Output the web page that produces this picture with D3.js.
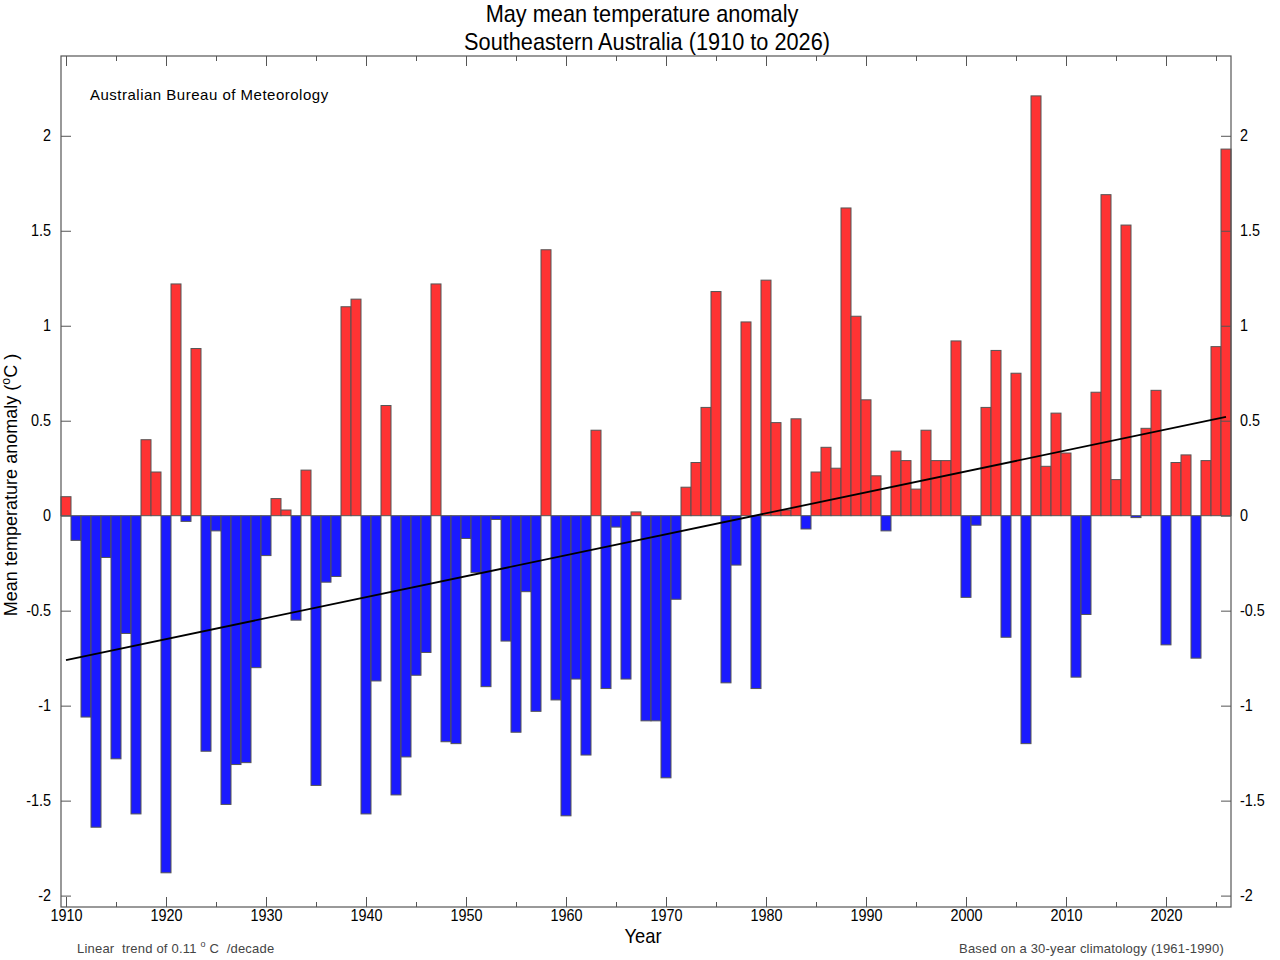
<!DOCTYPE html>
<html>
<head>
  <meta charset="utf-8">
  <title>May anomaly</title>
  <script src="https://d3js.org/d3.v7.min.js"></script>
  <style>
    body { margin: 0; background: #fff; }
    text { font-family: "Liberation Sans", Arial, sans-serif; }
  </style>
</head>
<body>
  <svg width="1280" height="960" id="mainsvg"></svg>
  <script>
    // May mean temperature anomaly, SE Australia, 1910..2026
    const years = d3.range(1910, 2027);
    const anomalies = [
      0.10, -0.13, -1.06, -1.64, -0.22, -1.28, -0.62, -1.57, 0.40, 0.23,   // 1910s
      -1.88, 1.22, -0.03, 0.88, -1.24, -0.08, -1.52, -1.31, -1.30, -0.80,  // 1920s
      -0.21, 0.09, 0.03, -0.55, 0.24, -1.42, -0.35, -0.32, 1.10, 1.14,     // 1930s
      -1.57, -0.87, 0.58, -1.47, -1.27, -0.84, -0.72, 1.22, -1.19, -1.20,  // 1940s
      -0.12, -0.30, -0.90, -0.02, -0.66, -1.14, -0.40, -1.03, 1.40, -0.97, // 1950s
      -1.58, -0.86, -1.26, 0.45, -0.91, -0.06, -0.86, 0.02, -1.08, -1.08,  // 1960s
      -1.38, -0.44, 0.15, 0.28, 0.57, 1.18, -0.88, -0.26, 1.02, -0.91,     // 1970s
      1.24, 0.49, 0.03, 0.51, -0.07, 0.23, 0.36, 0.25, 1.62, 1.05,         // 1980s
      0.61, 0.21, -0.08, 0.34, 0.29, 0.14, 0.45, 0.29, 0.29, 0.92,         // 1990s
      -0.43, -0.05, 0.57, 0.87, -0.64, 0.75, -1.20, 2.21, 0.26, 0.54,      // 2000s
      0.33, -0.85, -0.52, 0.65, 1.69, 0.19, 1.53, -0.01, 0.46, 0.66,       // 2010s
      -0.68, 0.28, 0.32, -0.75, 0.29, 0.89, 1.93                           // 2020s
    ];
    const trendYears = [1910, 2026];
    const trendValues = [-0.76, 0.52];
    const yTicks = [-2, -1.5, -1, -0.5, 0, 0.5, 1, 1.5, 2];
    const xMajor = d3.range(1910, 2030, 10);
    const xMinor = d3.range(1915, 2030, 10);

    const data = years.map((y, i) => ({ year: y, value: anomalies[i] }));

    const svg = d3.select('#mainsvg');
    const plotL = 61, plotR = 1231, plotT = 56, plotB = 907;

    const xScale = d3.scaleLinear().domain([1909.5, 2026.5]).range([plotL, plotR]);
    const yScale = d3.scaleLinear().domain([-2.06, 2.42]).range([plotB, plotT]);

    const g = svg.append('g');

    // bars
    g.selectAll('rect.bar').data(data).join('rect')
      .attr('class', 'bar')
      .attr('x', d => xScale(d.year - 0.5))
      .attr('width', d => xScale(d.year + 0.5) - xScale(d.year - 0.5))
      .attr('y', d => yScale(Math.max(0, d.value)))
      .attr('height', d => Math.abs(yScale(d.value) - yScale(0)))
      .attr('fill', d => d.value >= 0 ? '#ff3333' : '#1a1aff')
      .attr('stroke', '#555')
      .attr('stroke-width', 1);

    // trend line
    g.append('line')
      .attr('x1', xScale(trendYears[0])).attr('y1', yScale(trendValues[0]))
      .attr('x2', xScale(trendYears[1])).attr('y2', yScale(trendValues[1]))
      .attr('stroke', '#000').attr('stroke-width', 1.8);

    // axes, ticks inside the frame on all sides; labels squeezed a bit to look narrow
    const axisStyle = sel => {
      sel.select('.domain').remove();
      sel.selectAll('line').attr('stroke', '#555');
      sel.selectAll('text').attr('font-size', 16).attr('fill', '#000')
        .attr('transform', 'scale(0.9,1)');
    };
    const yfmt = d => String(d);

    svg.append('g').attr('transform', `translate(${plotL},0)`)
      .call(d3.axisLeft(yScale).tickValues(yTicks).tickFormat(yfmt).tickSizeInner(-10).tickPadding(11))
      .call(axisStyle);
    svg.append('g').attr('transform', `translate(${plotR},0)`)
      .call(d3.axisRight(yScale).tickValues(yTicks).tickFormat(yfmt).tickSizeInner(-10).tickPadding(10))
      .call(axisStyle);

    svg.append('g').attr('transform', `translate(0,${plotB})`)
      .call(d3.axisBottom(xScale).tickValues(xMajor).tickFormat(d3.format('d')).tickSizeInner(-10).tickPadding(3))
      .call(axisStyle);
    svg.append('g').attr('transform', `translate(0,${plotB})`)
      .call(d3.axisBottom(xScale).tickValues(xMinor).tickFormat('').tickSizeInner(-5))
      .call(axisStyle);
    svg.append('g').attr('transform', `translate(0,${plotT})`)
      .call(d3.axisTop(xScale).tickValues(xMajor).tickFormat('').tickSizeInner(-10))
      .call(axisStyle);
    svg.append('g').attr('transform', `translate(0,${plotT})`)
      .call(d3.axisTop(xScale).tickValues(xMinor).tickFormat('').tickSizeInner(-5))
      .call(axisStyle);

    // frame
    svg.append('rect')
      .attr('x', plotL).attr('y', plotT)
      .attr('width', plotR - plotL).attr('height', plotB - plotT)
      .attr('fill', 'none').attr('stroke', '#555').attr('stroke-width', 1.2);

    // titles
    svg.append('text').attr('transform', 'translate(642,22) scale(0.906,1)').attr('text-anchor', 'middle')
      .attr('font-size', 24).text('May mean temperature anomaly');
    svg.append('text').attr('transform', 'translate(647,50) scale(0.906,1)').attr('text-anchor', 'middle')
      .attr('font-size', 24).text('Southeastern Australia (1910 to 2026)');

    svg.append('text').attr('x', 90).attr('y', 100)
      .attr('font-size', 15).attr('letter-spacing', 0.5)
      .text('Australian Bureau of Meteorology');

    svg.append('text').attr('transform', 'translate(643,943) scale(0.92,1)').attr('text-anchor', 'middle')
      .attr('font-size', 20).text('Year');

    // y label
    const yl = svg.append('text')
      .attr('transform', 'translate(17,485) rotate(-90) scale(0.95,1)')
      .attr('text-anchor', 'middle').attr('font-size', 19);
    yl.append('tspan').text('Mean temperature anomaly (');
    yl.append('tspan').attr('font-size', 13).attr('dy', -7).text('o');
    yl.append('tspan').attr('dy', 7).text('C )');

    // footers
    const fl = svg.append('text').attr('x', 77).attr('y', 953)
      .attr('font-size', 13).attr('fill', '#444').attr('letter-spacing', 0.2)
      .style('white-space', 'pre');
    fl.append('tspan').text('Linear  trend of 0.11 ');
    fl.append('tspan').attr('font-size', 9).attr('dy', -6).text('o');
    fl.append('tspan').attr('dy', 6).text(' C  /decade');

    svg.append('text').attr('x', 1224).attr('y', 953).attr('text-anchor', 'end')
      .attr('font-size', 13).attr('fill', '#444').attr('letter-spacing', 0.2)
      .text('Based on a 30-year climatology (1961-1990)');
  </script>
</body>
</html>
